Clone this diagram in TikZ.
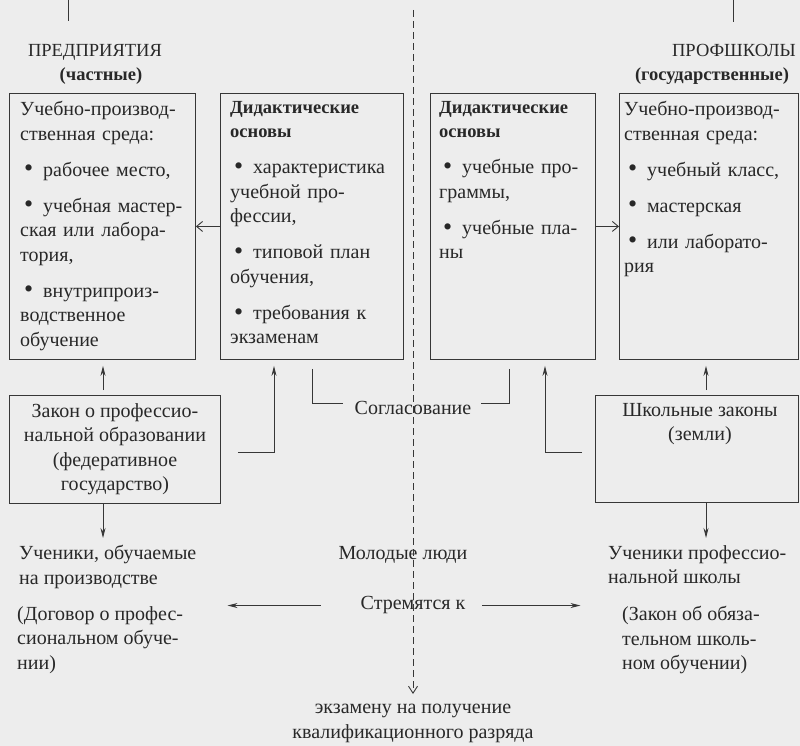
\documentclass[tikz,border=0pt]{standalone}
\usepackage{fontspec}
\setmainfont{Liberation Serif}
\usetikzlibrary{arrows.meta}
\definecolor{bgc}{RGB}{237,237,237}
\definecolor{textc}{RGB}{40,40,40}
\definecolor{linec}{RGB}{55,55,55}
\newcommand\fs{\fontsize{20}{24.5}\selectfont}
\newcommand\hfs{\fontsize{18.5}{24.5}\selectfont}
\newcommand\bfs[1]{{\fontsize{18.5}{24.5}\selectfont\bfseries #1}}
\newcommand\bul[1]{\par\vspace{11.5pt}\hangindent=23pt\hangafter=1\noindent\makebox[23pt][l]{\hspace{4pt}\raisebox{-0.8pt}{\scalebox{1.3}{\textbullet}}}#1}
\tikzset{
  box/.style={draw=linec, line width=0.9pt, inner sep=0pt, anchor=north west},
  txt/.style={inner sep=0pt, anchor=north west, font=\fs, text=textc, align=left},
  ctxt/.style={inner sep=0pt, font=\fs, text=textc, align=center},
  head/.style={inner sep=0pt, font=\hfs, text=textc, anchor=base},
  boxtext/.style={inner sep=0pt, anchor=north west, font=\fs, text=textc},
  conn/.style={draw=linec, line width=0.9pt},
  fillarrow/.style={conn, -{Stealth[length=10pt,width=5pt]}},
  openarrow/.style={conn, -{Straight Barb[length=6pt,width=10pt]}},
}
\begin{document}
\begin{tikzpicture}[x=1pt,y=-1pt]
\fill[bgc] (0,0) rectangle (800,746);
\useasboundingbox (0,0) rectangle (800,746);

% top lines
\coordinate (t1a) at (68,0); \coordinate (t1b) at (68,21);
\coordinate (t2a) at (733,0); \coordinate (t2b) at (733,22);
\draw[conn] (t1a) -- (t1b);
\draw[conn] (t2a) -- (t2b);

% headings
\node[head] (h1) at (95,57) {ПРЕДПРИЯТИЯ};
\node[head] (h1s) at (101,81) {\bfs{(частные)}};
\node[head] (h2) at (734,57) {ПРОФШКОЛЫ};
\node[head] (h2s) at (712,81) {\bfs{(государственные)}};

% boxes
\node[box, minimum width=186pt, minimum height=266pt] (b1) at (9,93) {};
\node[box, minimum width=183pt, minimum height=266pt] (b2) at (220,93) {};
\node[box, minimum width=165pt, minimum height=266pt] (b3) at (430,93) {};
\node[box, minimum width=179pt, minimum height=266pt] (b4) at (619,93) {};
\node[box, minimum width=211pt, minimum height=108pt] (b5) at (9,395) {};
\node[box, minimum width=203pt, minimum height=107pt] (b6) at (595,395) {};

\node[boxtext, text width=180pt] (b1t) at ([xshift=11pt,yshift=-8pt]b1.north west)
{Учебно-производ-\\ственная среда:
\bul{рабочее место,}
\bul{учебная мастер-\\ская или лабора-\\тория,}
\bul{внутрипроиз-\\водственное\\обучение}};

\node[boxtext, text width=180pt] (b2t) at ([xshift=10pt,yshift=-8pt]b2.north west)
{\bfs{Дидактические\\основы}
\bul{характеристика\\учебной про-\\фессии,}
\bul{типовой план\\обучения,}
\bul{требования к\\экзаменам}};

\node[boxtext, text width=160pt] (b3t) at ([xshift=9pt,yshift=-8pt]b3.north west)
{\bfs{Дидактические\\основы}
\bul{учебные про-\\граммы,}
\bul{учебные пла-\\ны}};

\node[boxtext, text width=178pt] (b4t) at ([xshift=5pt,yshift=-8pt]b4.north west)
{Учебно-производ-\\ственная среда:
\bul{учебный класс,}
\bul{мастерская}
\bul{или лаборато-\\рия}};

\node[ctxt] (b5t) at (b5.center)
{Закон о профессио-\\нальной образовании\\(федеративное\\государство)};
\node[ctxt, anchor=north] (b6t) at ([xshift=3pt,yshift=-8pt]b6.north)
{Школьные законы\\(земли)};

% arrows between boxes
\draw[openarrow] (b2.west) -- (b1.east);
\draw[openarrow] (b3.east) -- (b4.west);

\coordinate (cx1) at (103,0);
\coordinate (cx2) at (706,0);
\coordinate (cx3) at (274,0);
\coordinate (cx4) at (545,0);
\coordinate (cx5) at (312,0);
\coordinate (cx6) at (509,0);

\draw[fillarrow, shorten <=5pt, shorten >=6pt] (cx1 |- b5.north) -- (cx1 |- b1.south);
\draw[fillarrow, shorten <=5pt, shorten >=6pt] (cx2 |- b6.north) -- (cx2 |- b4.south);
\draw[fillarrow, shorten >=6pt] ([xshift=17pt,yshift=-3pt]b5.east) -| (cx3 |- b2.south);
\draw[fillarrow, shorten >=6pt] ([xshift=-13pt,yshift=-3pt]b6.west) -| (cx4 |- b3.south);

% Soglasovanie
\node[ctxt, anchor=base] (sogl) at (413,414) {Согласование};
\draw[conn] ([yshift=-9pt]cx5 |- b2.south) |- ([xshift=-12pt,yshift=4pt]sogl.west);
\draw[conn] ([yshift=-9pt]cx6 |- b3.south) |- ([xshift=9pt,yshift=4pt]sogl.east);

% bottom texts
\node[txt] (u1) at (19,545) {Ученики, обучаемые\\на производстве};
\node[ctxt, anchor=base] (mol) at (403,559) {Молодые люди};
\node[txt] (u2) at (608,545) {Ученики профессио-\\нальной школы};
\node[txt] (d1) at (17,606) {(Договор о профес-\\сиональном обуче-\\нии)};
\node[txt] (d2) at (622,606) {(Закон об обяза-\\тельном школь-\\ном обучении)};
\node[ctxt, anchor=base] (str) at (413,609) {Стремятся к};
\node[ctxt, anchor=north] (ex) at (413,704) {экзамену на получение\\квалификационного разряда};

\draw[fillarrow] (cx1 |- b5.south) -- ([yshift=7pt]cx1 |- u1.north);
\draw[fillarrow] (cx2 |- b6.south) -- ([yshift=7pt]cx2 |- u2.north);

\draw[fillarrow] ([xshift=-40pt,yshift=-1pt]str.west) -- ([xshift=-133pt,yshift=-1pt]str.west);
\draw[fillarrow] ([xshift=17pt,yshift=-1pt]str.east) -- ([xshift=115pt,yshift=-1pt]str.east);

% central dashed line
\coordinate (dtop) at (413,10);
\coordinate (dbot) at (413,694);
\draw[conn, dash pattern=on 7pt off 4pt, -{Straight Barb[length=7pt,width=9pt]}] (dtop) -- (dbot);
\end{tikzpicture}
\end{document}
